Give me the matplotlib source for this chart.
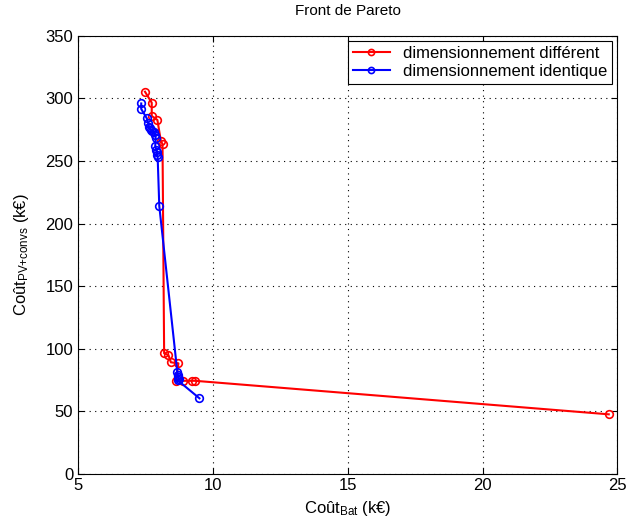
import matplotlib.pyplot as plt

plt.rcParams['font.family'] = ['Liberation Sans', 'DejaVu Sans']
plt.rcParams['mathtext.default'] = 'regular'

# front with different sizing
diff_x = [7.48, 7.73, 7.73, 7.94, 8.07, 8.13, 8.19, 8.35, 8.44, 8.72, 8.63,
          8.90, 9.21, 9.34, 24.68]
diff_y = [305.4, 296.6, 286.0, 282.8, 265.8, 263.6, 96.2, 94.8, 89.0, 88.2,
          74.2, 74.2, 74.2, 74.2, 47.4]

# front with identical sizing
same_x = [7.34, 7.34, 7.55, 7.60, 7.62, 7.66, 7.70, 7.75, 7.80, 7.85, 7.88,
          7.86, 7.90, 7.93, 7.92, 7.95, 8.01, 8.68, 8.70, 8.72, 8.74, 8.70,
          9.50]
same_y = [296.0, 291.6, 284.0, 280.0, 277.0, 276.0, 275.0, 274.0, 273.0,
          271.0, 268.0, 262.0, 259.0, 257.0, 255.0, 253.0, 214.0, 81.0, 79.0,
          77.0, 76.0, 74.5, 60.2]

labels = ["dimensionnement différent", "dimensionnement identique"]

fig = plt.figure(figsize=(6.3, 5.21), dpi=100)
ax = fig.add_axes([0.124, 0.091, 0.856, 0.840])

ax.plot(diff_x, diff_y, color='red', lw=1.5, marker='o', ms=5.5,
        mfc='none', mec='red', mew=1.2, label=labels[0])
ax.plot(same_x, same_y, color='blue', lw=1.5, marker='o', ms=5.5,
        mfc='none', mec='blue', mew=1.2, label=labels[1])

ax.set_xlim(5, 25)
ax.set_ylim(0, 350)
ax.set_xticks([5, 10, 15, 20, 25])
ax.set_yticks(range(0, 351, 50))
ax.grid(True, color='black', linestyle=(0, (1, 4)), linewidth=0.8)
ax.tick_params(direction='in', labelsize=12, length=4, top=True, right=True)

ax.set_title("Front de Pareto", fontsize=11, pad=15)
ax.set_xlabel("Coût$_{Bat}$ (k€)", fontsize=12)
ax.set_ylabel("Coût$_{PV{+}convs}$ (k€)", fontsize=12, labelpad=10)

leg = ax.legend(loc='upper right', numpoints=1, fontsize=12, fancybox=False,
                edgecolor='black', framealpha=1, borderaxespad=0.3,
                handlelength=2.2, borderpad=0.3, labelspacing=0.2,
                markerscale=0.8)
leg.get_frame().set_linewidth(0.8)

fig.savefig("out.png")
